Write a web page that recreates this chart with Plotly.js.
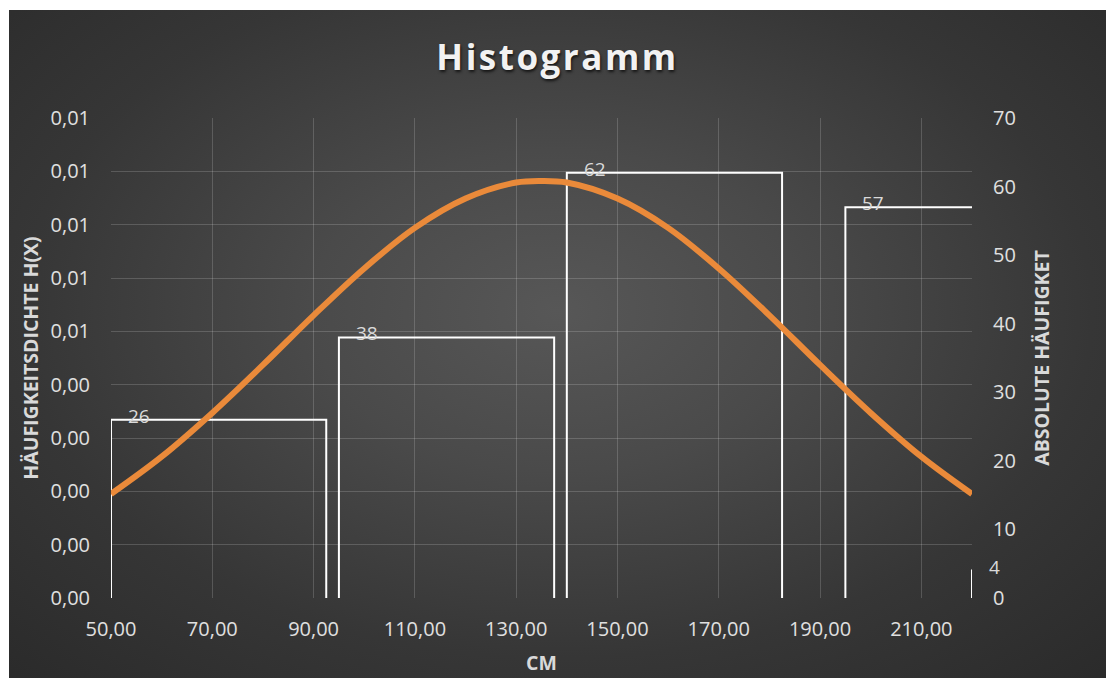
<!DOCTYPE html>
<html>
<head>
<meta charset="utf-8">
<script src="https://cdn.plot.ly/plotly-3.0.1.min.js"></script>
<style>
  html, body { margin: 0; padding: 0; background: #ffffff; width: 1106px; height: 678px; overflow: hidden; }
  #frame {
    position: absolute; left: 9px; top: 10px; width: 1097px; height: 668px;
    background: radial-gradient(ellipse 75% 80% at 50% 45%, #575757 0%, #4a4a4a 30%, #363636 65%, #292929 100%);
  }
  #chart { width: 1097px; height: 668px; }
</style>
</head>
<body>
<div id="frame"><div id="chart"></div></div>
<script>
// ---- Data ----
const binStart = [50, 95, 140, 195, 220];
const binEnd   = [92.5, 137.5, 182.5, 237.5, 262.5];
const counts   = [26, 38, 62, 57, 4];

const curveX = [50, 60, 70, 80, 90, 100, 110, 120, 130, 135, 140, 150, 160, 170, 180, 190, 200, 210, 220];
const curveY = [0.00195, 0.00265, 0.00347, 0.00437, 0.00530, 0.00618, 0.00694, 0.00749, 0.00779, 0.00782,
                0.00779, 0.00749, 0.00694, 0.00618, 0.00530, 0.00437, 0.00347, 0.00265, 0.00195];

const titleText = "Histogramm";
const xTitle = "CM";
const yLeftTitle = "HÄUFIGKEITSDICHTE H(X)";
const yRightTitle = "ABSOLUTE HÄUFIGKET";

// ---- Traces ----
const traces = [];
binStart.forEach((s, i) => {
  traces.push({
    type: 'scatter', mode: 'lines',
    x: [s, s, binEnd[i], binEnd[i]],
    y: [0, counts[i], counts[i], 0],
    xaxis: 'x', yaxis: 'y',
    line: { color: '#ffffff', width: 2 },
    hoverinfo: 'skip', showlegend: false
  });
});
traces.push({
  type: 'scatter', mode: 'lines',
  x: curveX, y: curveY,
  xaxis: 'x', yaxis: 'y2',
  line: { color: '#EA8A3A', width: 6, shape: 'spline', smoothing: 1 },
  showlegend: false
});

const annotations = binStart.map((s, i) => ({
  x: s, y: counts[i], xref: 'x', yref: 'y',
  text: String(counts[i]), showarrow: false,
  xanchor: 'left', yanchor: 'middle', xshift: 15, yshift: 4,
  font: { family: 'Open Sans', size: 19, color: '#d9d9d9' }
}));

const tickFont = { family: 'Open Sans', size: 20, color: '#e0e0e0' };
const axTitleFont = { family: 'Open Sans', size: 19.5, color: '#d9d9d9', weight: 'bold' };

const layout = {
  width: 1097, height: 668,
  paper_bgcolor: 'rgba(0,0,0,0)', plot_bgcolor: 'rgba(0,0,0,0)',
  margin: { l: 102, r: 134, t: 108, b: 80, pad: 0 },
  separators: ',.',
  showlegend: false,
  title: {
    text: titleText, x: 0.5, xref: 'container', xanchor: 'center',
    y: 1 - 48 / 668, yref: 'container', yanchor: 'middle',
    font: { family: 'Open Sans', size: 35, color: '#f2f2f2', weight: 'bold', shadow: '1px 2px 3px rgba(0,0,0,0.7)' }
  },
  xaxis: {
    range: [50, 220], tick0: 50, dtick: 20, tickformat: '.2f',
    showgrid: true, gridcolor: 'rgba(255,255,255,0.17)', gridwidth: 1,
    zeroline: false, showline: false, ticks: '',
    tickfont: tickFont, ticklabelstandoff: 17,
    title: { text: xTitle, font: axTitleFont, standoff: 15 }
  },
  yaxis: {
    range: [0, 70], dtick: 10, side: 'right',
    showgrid: false, zeroline: false, showline: false, ticks: '',
    tickfont: tickFont, ticklabelstandoff: 20,
    title: { text: yRightTitle, font: axTitleFont, standoff: 20 }
  },
  yaxis2: {
    range: [0, 0.009], dtick: 0.001, tickformat: '.2f',
    overlaying: 'y', side: 'left',
    showgrid: true, gridcolor: 'rgba(255,255,255,0.17)', gridwidth: 1,
    zeroline: false, showline: false, ticks: '',
    tickfont: tickFont, ticklabelstandoff: 20,
    title: { text: yLeftTitle, font: axTitleFont, standoff: 6 }
  },
  annotations: annotations
};

Plotly.newPlot('chart', traces, layout, { displayModeBar: false, staticPlot: true }).then(gd => {
  const t = gd.querySelector('.gtitle');
  if (t) t.style.letterSpacing = '2.5px';
});
</script>
</body>
</html>
